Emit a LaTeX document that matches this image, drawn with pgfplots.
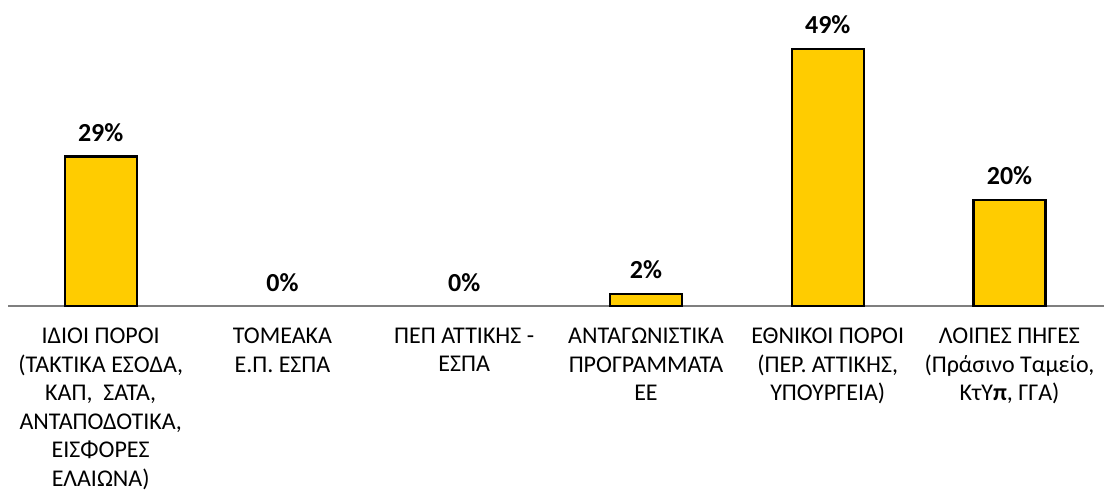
\documentclass[border=0pt]{standalone}
\usepackage{pgfplots}
\pgfplotsset{compat=1.18}
\usepackage{fontspec}
\setmainfont{Carlito}
\definecolor{baryellow}{HTML}{FFCC00}
\definecolor{axisgray}{HTML}{7F7F7F}
\begin{document}
\begin{tikzpicture}[x=0.75pt,y=0.75pt]
\begin{axis}[
  at={(0,0)}, anchor=south west,
  scale only axis,
  width=822pt, height=229.5pt,
  xmin=-0.51, xmax=5.52, ymin=0, ymax=58.34,
  axis y line=none,
  axis x line*=bottom,
  x axis line style={draw=axisgray, line width=1pt, -},
  xtick={0,1,2,3,4,5},
  major tick length=0pt,
  xticklabels={
    {ΙΔΙΟΙ ΠΟΡΟΙ\\(ΤΑΚΤΙΚΑ ΕΣΟΔΑ,\\ΚΑΠ,\ \ ΣΑΤΑ,\\ΑΝΤΑΠΟΔΟΤΙΚΑ,\\ΕΙΣΦΟΡΕΣ\\ΕΛΑΙΩΝΑ)},
    {ΤΟΜΕΑΚΑ\\Ε.Π. ΕΣΠΑ},
    {ΠΕΠ ΑΤΤΙΚΗΣ -\\ΕΣΠΑ},
    {ΑΝΤΑΓΩΝΙΣΤΙΚΑ\\ΠΡΟΓΡΑΜΜΑΤΑ\\ΕΕ},
    {ΕΘΝΙΚΟΙ ΠΟΡΟΙ\\(ΠΕΡ. ΑΤΤΙΚΗΣ,\\ΥΠΟΥΡΓΕΙΑ)},
    {ΛΟΙΠΕΣ ΠΗΓΕΣ\\(Πράσινο Ταμείο,\\ΚτΥ\textbf{π}, ΓΓΑ)}
  },
  xticklabel style={align=center, anchor=north, yshift=-13pt,
    font=\fontsize{18}{21.4}\selectfont, text=black},
  ybar, bar width=54pt, bar shift=0pt,
  /pgf/number format/assume math mode=true,
  nodes near coords={\pgfmathprintnumber{\pgfplotspointmeta}\%},
  point meta=explicit,
  every node near coord/.append style={font=\bfseries\fontsize{19.5}{22}\selectfont, text=black, anchor=south, yshift=7pt},
  clip=false,
]
\addplot[fill=baryellow, draw=black, line width=1.6pt] coordinates {
  (0,28.5) [29]
  (3,2.3) [2]
  (4,49) [49]
  (5,20.2) [20]
};
\addplot[draw=none, fill=none] coordinates {
  (1,0) [0]
  (2,0) [0]
};
\end{axis}
\pgfresetboundingbox
\path[use as bounding box] (-6pt,-144pt) rectangle (823.5pt,229.5pt);
\end{tikzpicture}
\end{document}
